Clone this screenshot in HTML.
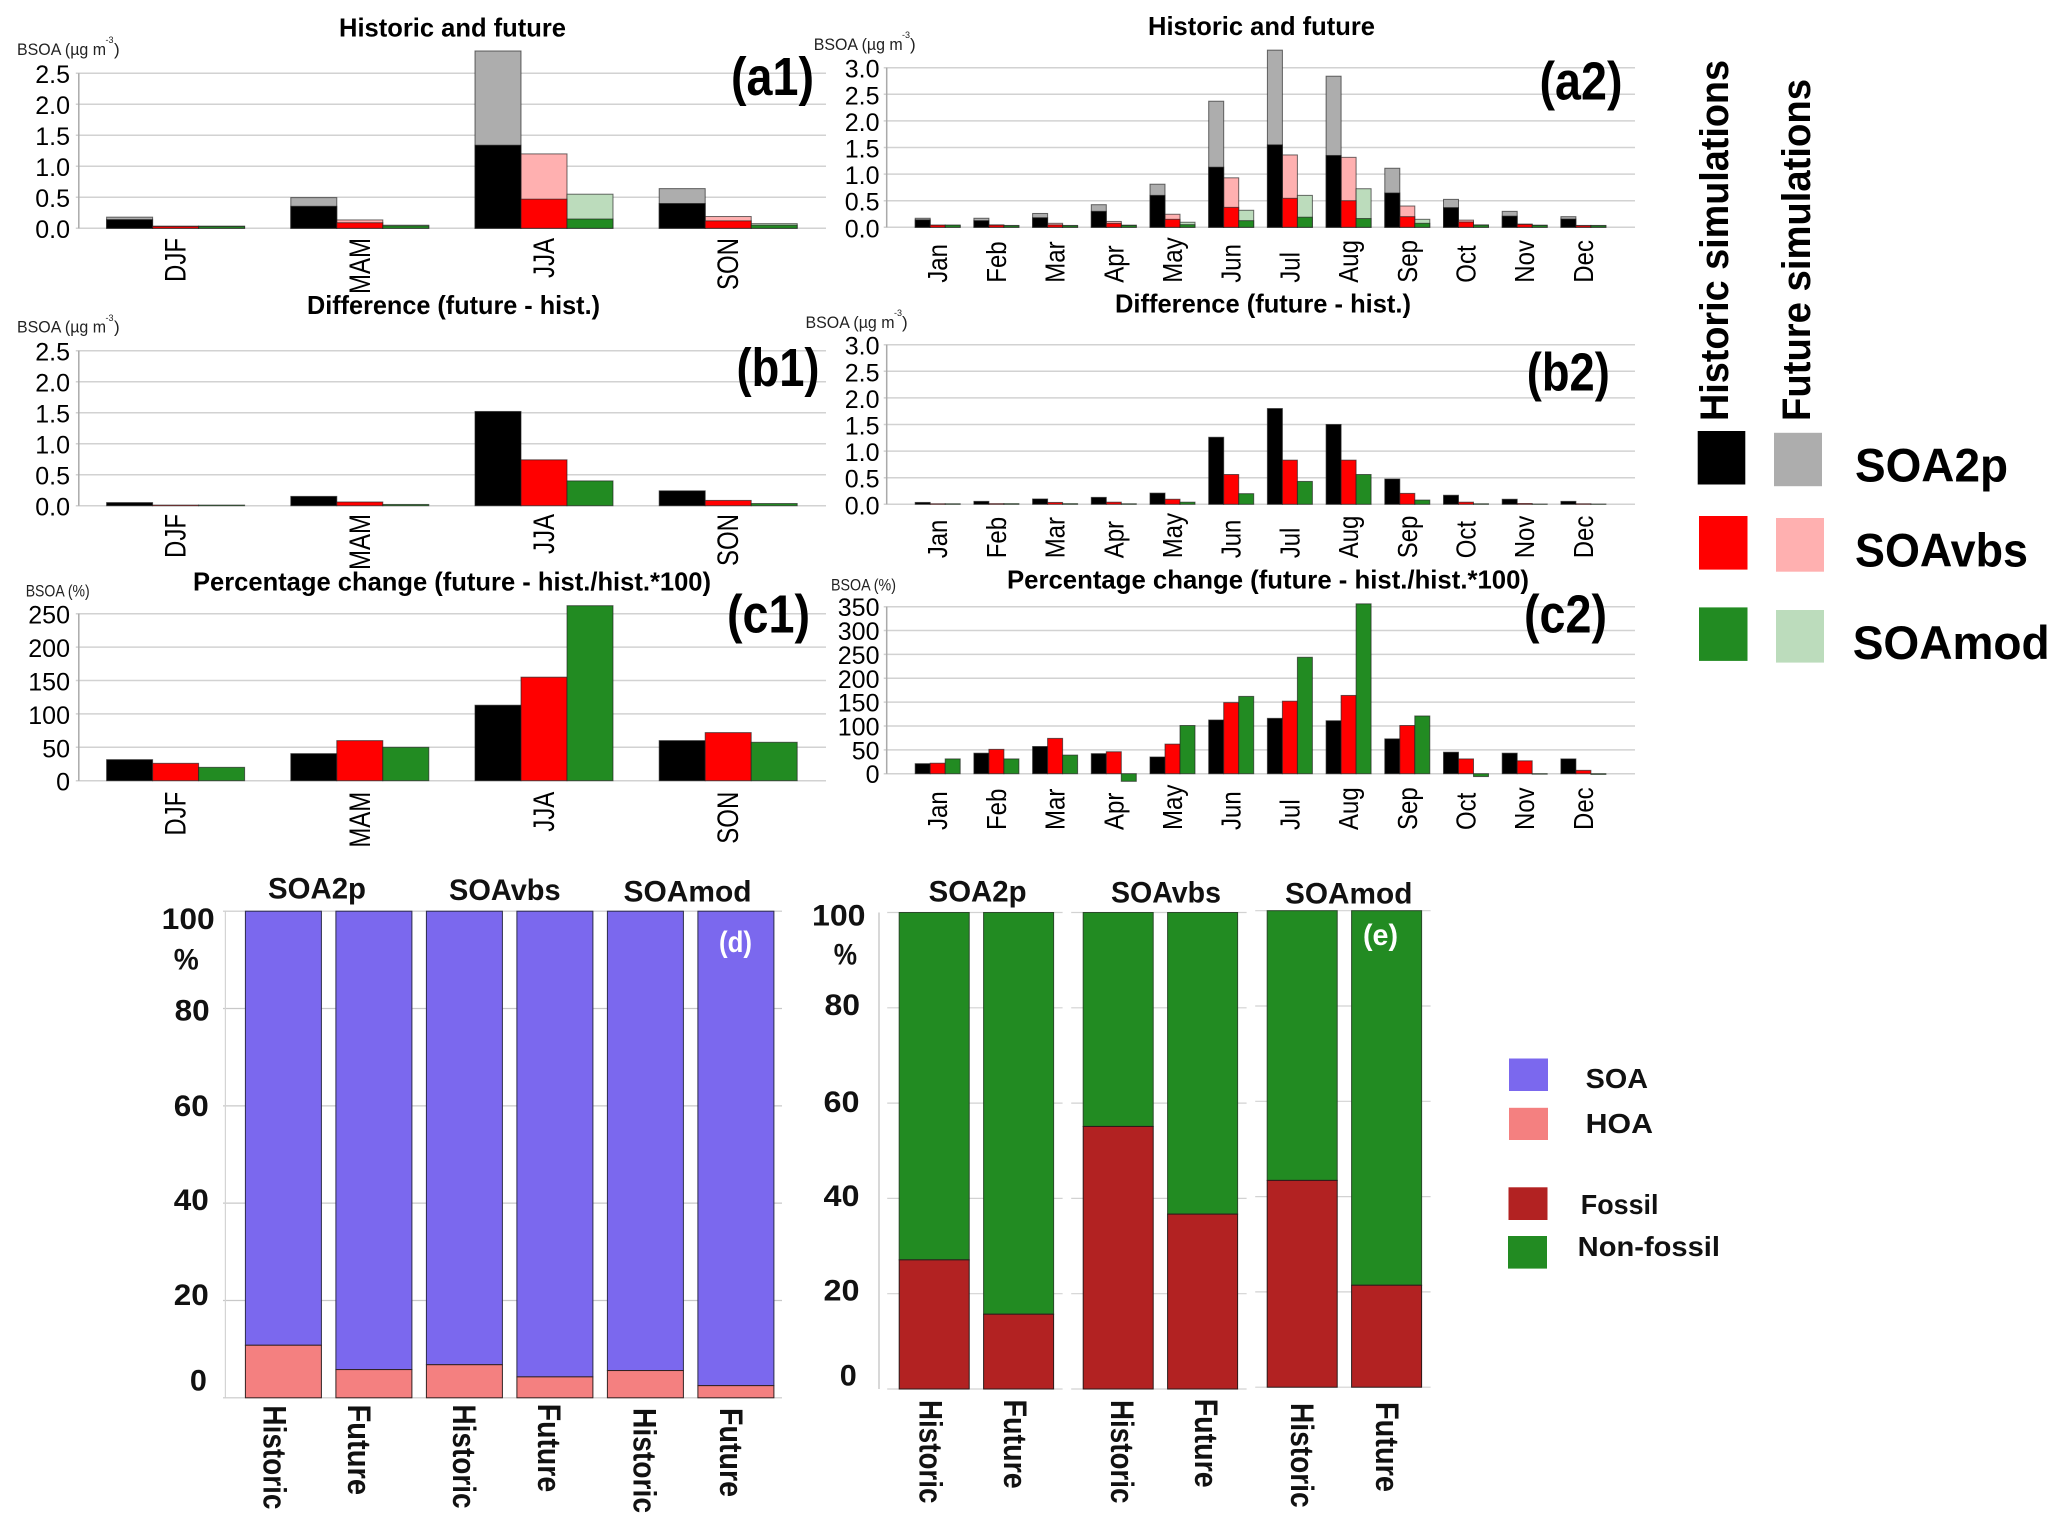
<!DOCTYPE html>
<html lang="en">
<head>
<meta charset="utf-8">
<title>BSOA historic and future simulations</title>
<style>
html,body{margin:0;padding:0;background:#fff;}
svg{display:block;}
text{font-family:"Liberation Sans",sans-serif;fill:#000;}
.t{font-size:26px;font-weight:bold;}
.u{font-size:17px;fill:#222;}
.s{font-size:9px;fill:#222;}
.p{font-size:54px;font-weight:bold;}
.h{font-size:30px;font-weight:bold;fill:#111;}
.k{font-size:30px;font-weight:bold;fill:#111;}
.b{font-size:32px;font-weight:bold;fill:#111;}
.l{font-size:47px;font-weight:bold;}
.v{font-size:40px;font-weight:bold;}
.e{font-size:28px;font-weight:bold;fill:#111;}
</style>
</head>
<body>
<svg id="figure" xmlns="http://www.w3.org/2000/svg" width="2067" height="1530" viewBox="0 0 2067 1530">
<rect width="2067" height="1530" fill="#fff"/>
<g id="charts"></g>

<text class="t" x="339" y="36.7" textLength="227" lengthAdjust="spacingAndGlyphs">Historic and future</text>
<text class="t" x="1148" y="35" textLength="227" lengthAdjust="spacingAndGlyphs">Historic and future</text>
<text class="t" x="307" y="314" textLength="293" lengthAdjust="spacingAndGlyphs">Difference (future - hist.)</text>
<text class="t" x="1115" y="312.7" textLength="296" lengthAdjust="spacingAndGlyphs">Difference (future - hist.)</text>
<text class="t" x="193" y="590.7" textLength="518" lengthAdjust="spacingAndGlyphs">Percentage change (future - hist./hist.*100)</text>
<text class="t" x="1007" y="588.3" textLength="522" lengthAdjust="spacingAndGlyphs">Percentage change (future - hist./hist.*100)</text>

<g><text class="u" x="17" y="55" textLength="89" lengthAdjust="spacingAndGlyphs">BSOA (µg m</text><text class="s" x="105.5" y="43">-3</text><text class="u" x="114" y="55">)</text></g>
<g><text class="u" x="813.7" y="50" textLength="89" lengthAdjust="spacingAndGlyphs">BSOA (µg m</text><text class="s" x="902" y="38">-3</text><text class="u" x="910" y="50">)</text></g>
<g><text class="u" x="17" y="332.7" textLength="89" lengthAdjust="spacingAndGlyphs">BSOA (µg m</text><text class="s" x="105.5" y="321">-3</text><text class="u" x="114" y="332.7">)</text></g>
<g><text class="u" x="805.5" y="328" textLength="89" lengthAdjust="spacingAndGlyphs">BSOA (µg m</text><text class="s" x="894" y="316">-3</text><text class="u" x="902" y="328">)</text></g>
<text class="u" x="25.7" y="596.7" textLength="64" lengthAdjust="spacingAndGlyphs">BSOA (%)</text>
<text class="u" x="831" y="590.7" textLength="65" lengthAdjust="spacingAndGlyphs">BSOA (%)</text>

<text class="p" x="731" y="95" textLength="83" lengthAdjust="spacingAndGlyphs">(a1)</text>
<text class="p" x="1539.5" y="99.3" textLength="83" lengthAdjust="spacingAndGlyphs">(a2)</text>
<text class="p" x="736.5" y="386" textLength="83" lengthAdjust="spacingAndGlyphs">(b1)</text>
<text class="p" x="1526.8" y="390.7" textLength="83" lengthAdjust="spacingAndGlyphs">(b2)</text>
<text class="p" x="727" y="632.7" textLength="83" lengthAdjust="spacingAndGlyphs">(c1)</text>
<text class="p" x="1524" y="632.7" textLength="83" lengthAdjust="spacingAndGlyphs">(c2)</text>

<g>
<text class="v" transform="translate(1728,421) rotate(-90)" textLength="361" lengthAdjust="spacingAndGlyphs">Historic simulations</text>
<text class="v" transform="translate(1810,421) rotate(-90)" textLength="342" lengthAdjust="spacingAndGlyphs">Future simulations</text>
<rect x="1697.7" y="431" width="47.6" height="53.5" fill="#000"/>
<rect x="1774" y="432.8" width="48" height="53.4" fill="#adadad"/>
<rect x="1699" y="516" width="48.5" height="53.6" fill="#ff0000"/>
<rect x="1776" y="518" width="48" height="53.7" fill="#ffb0b0"/>
<rect x="1699" y="607.4" width="48.5" height="53.5" fill="#228b22"/>
<rect x="1776" y="610" width="48" height="52.6" fill="#bcdcbc"/>
<text class="l" x="1855" y="481.6" textLength="153" lengthAdjust="spacingAndGlyphs">SOA2p</text>
<text class="l" x="1855" y="566.6" textLength="173" lengthAdjust="spacingAndGlyphs">SOAvbs</text>
<text class="l" x="1852.7" y="659" textLength="197" lengthAdjust="spacingAndGlyphs">SOAmod</text>
</g>

<g>
<text class="h" x="268" y="898.6" textLength="98" lengthAdjust="spacingAndGlyphs">SOA2p</text>
<text class="h" x="449" y="900" textLength="111.6" lengthAdjust="spacingAndGlyphs">SOAvbs</text>
<text class="h" x="623.5" y="901.6" textLength="128" lengthAdjust="spacingAndGlyphs">SOAmod</text>
<text class="k" x="161.7" y="929" textLength="53" lengthAdjust="spacingAndGlyphs">100</text>
<text class="k" x="173.8" y="969.7" textLength="25" lengthAdjust="spacingAndGlyphs">%</text>
<text class="k" x="174.7" y="1020.7" textLength="35" lengthAdjust="spacingAndGlyphs">80</text>
<text class="k" x="173.8" y="1116" textLength="35" lengthAdjust="spacingAndGlyphs">60</text>
<text class="k" x="173.8" y="1210" textLength="35" lengthAdjust="spacingAndGlyphs">40</text>
<text class="k" x="173.8" y="1304.8" textLength="35" lengthAdjust="spacingAndGlyphs">20</text>
<text class="k" x="189.9" y="1390.6" textLength="17" lengthAdjust="spacingAndGlyphs">0</text>
<text class="b" transform="translate(263.6,1405.4) rotate(90)" textLength="104" lengthAdjust="spacingAndGlyphs">Historic</text>
<text class="b" transform="translate(348,1404.5) rotate(90)" textLength="90.5" lengthAdjust="spacingAndGlyphs">Future</text>
<text class="b" transform="translate(453,1404.5) rotate(90)" textLength="104" lengthAdjust="spacingAndGlyphs">Historic</text>
<text class="b" transform="translate(538,1403.7) rotate(90)" textLength="88.5" lengthAdjust="spacingAndGlyphs">Future</text>
<text class="b" transform="translate(633.5,1408) rotate(90)" textLength="105" lengthAdjust="spacingAndGlyphs">Historic</text>
<text class="b" transform="translate(719.8,1408) rotate(90)" textLength="89" lengthAdjust="spacingAndGlyphs">Future</text>
</g>

<g>
<text class="h" x="928.6" y="901.6" textLength="98" lengthAdjust="spacingAndGlyphs">SOA2p</text>
<text class="h" x="1111" y="902.4" textLength="110" lengthAdjust="spacingAndGlyphs">SOAvbs</text>
<text class="h" x="1285" y="903.7" textLength="127.4" lengthAdjust="spacingAndGlyphs">SOAmod</text>
<text class="k" x="812" y="925.6" textLength="53.5" lengthAdjust="spacingAndGlyphs">100</text>
<text class="k" x="833.7" y="964.7" textLength="23.3" lengthAdjust="spacingAndGlyphs">%</text>
<text class="k" x="824.5" y="1015" textLength="35.5" lengthAdjust="spacingAndGlyphs">80</text>
<text class="k" x="823.5" y="1112" textLength="36" lengthAdjust="spacingAndGlyphs">60</text>
<text class="k" x="823.5" y="1205.9" textLength="36" lengthAdjust="spacingAndGlyphs">40</text>
<text class="k" x="823.5" y="1300.6" textLength="36" lengthAdjust="spacingAndGlyphs">20</text>
<text class="k" x="839.8" y="1385.6" textLength="17" lengthAdjust="spacingAndGlyphs">0</text>
<text class="b" transform="translate(919.4,1400) rotate(90)" textLength="103.4" lengthAdjust="spacingAndGlyphs">Historic</text>
<text class="b" transform="translate(1004,1399.5) rotate(90)" textLength="89.2" lengthAdjust="spacingAndGlyphs">Future</text>
<text class="b" transform="translate(1111,1400) rotate(90)" textLength="103.4" lengthAdjust="spacingAndGlyphs">Historic</text>
<text class="b" transform="translate(1195,1398.7) rotate(90)" textLength="89" lengthAdjust="spacingAndGlyphs">Future</text>
<text class="b" transform="translate(1291,1403) rotate(90)" textLength="104.6" lengthAdjust="spacingAndGlyphs">Historic</text>
<text class="b" transform="translate(1376,1402) rotate(90)" textLength="90" lengthAdjust="spacingAndGlyphs">Future</text>
</g>

<g>
<rect x="1509" y="1058.5" width="39" height="32.5" fill="#7b68ee"/>
<rect x="1509" y="1107.8" width="39" height="32.2" fill="#f48080"/>
<rect x="1508.5" y="1187.3" width="39" height="32.7" fill="#b22222"/>
<rect x="1508" y="1236" width="39" height="32.6" fill="#228b22"/>
<text class="e" x="1585.7" y="1088" textLength="62.3" lengthAdjust="spacingAndGlyphs">SOA</text>
<text class="e" x="1585.7" y="1133" textLength="67.3" lengthAdjust="spacingAndGlyphs">HOA</text>
<text class="e" x="1580.8" y="1214" textLength="77.7" lengthAdjust="spacingAndGlyphs">Fossil</text>
<text class="e" x="1577.7" y="1256" textLength="142.3" lengthAdjust="spacingAndGlyphs">Non-fossil</text>
</g>

<g id="overlay"></g>

<script>
const seasons = ['DJF', 'MAM', 'JJA', 'SON'];
const months = ['Jan', 'Feb', 'Mar', 'Apr', 'May', 'Jun', 'Jul', 'Aug', 'Sep', 'Oct', 'Nov', 'Dec'];
const massTicksA = ['0.0', '0.5', '1.0', '1.5', '2.0', '2.5'];
const massTicksB = ['0.0', '0.5', '1.0', '1.5', '2.0', '2.5', '3.0'];
const pctTicksC1 = ['0', '50', '100', '150', '200', '250'];
const pctTicksC2 = ['0', '50', '100', '150', '200', '250', '300', '350'];
const shareTicks = [0, 20, 40, 60, 80, 100];

const a1Hist2p = [0.14, 0.355, 1.34, 0.40];
const a1HistVbs = [0.03, 0.09, 0.47, 0.12];
const a1HistMod = [0.03, 0.04, 0.15, 0.05];
const a1Fut2p = [0.18, 0.495, 2.86, 0.64];
const a1FutVbs = [0.035, 0.135, 1.20, 0.19];
const a1FutMod = [0.035, 0.05, 0.55, 0.075];

const a2Hist2p = [0.14, 0.125, 0.18, 0.30, 0.60, 1.13, 1.55, 1.35, 0.645, 0.37, 0.21, 0.155];
const a2HistVbs = [0.04, 0.04, 0.045, 0.075, 0.15, 0.375, 0.545, 0.50, 0.20, 0.10, 0.055, 0.03];
const a2HistMod = [0.04, 0.03, 0.03, 0.035, 0.05, 0.125, 0.19, 0.165, 0.075, 0.04, 0.035, 0.03];
const a2Fut2p = [0.17, 0.17, 0.26, 0.425, 0.81, 2.37, 3.33, 2.84, 1.11, 0.525, 0.30, 0.20];
const a2FutVbs = [0.04, 0.045, 0.075, 0.11, 0.245, 0.93, 1.36, 1.315, 0.40, 0.135, 0.06, 0.035];
const a2FutMod = [0.04, 0.035, 0.035, 0.04, 0.095, 0.32, 0.60, 0.725, 0.15, 0.045, 0.04, 0.035];

const b1Diff2p = [0.05, 0.15, 1.52, 0.24];
const b1DiffVbs = [0.01, 0.06, 0.74, 0.085];
const b1DiffMod = [0.01, 0.02, 0.40, 0.035];

const b2Diff2p = [0.035, 0.055, 0.10, 0.13, 0.21, 1.26, 1.80, 1.50, 0.475, 0.17, 0.095, 0.055];
const b2DiffVbs = [0.01, 0.012, 0.035, 0.04, 0.095, 0.56, 0.83, 0.83, 0.205, 0.04, 0.015, 0.01];
const b2DiffMod = [0.01, 0.012, 0.012, 0.01, 0.04, 0.20, 0.43, 0.56, 0.08, 0.01, 0.005, 0.005];

const c1Pct2p = [31.5, 40.5, 113, 60];
const c1PctVbs = [26, 60, 155, 72];
const c1PctMod = [20, 50, 262, 57.5];

const c2Pct2p = [21, 43, 57, 42, 35, 112.5, 116, 111, 73, 45, 43, 31];
const c2PctVbs = [22, 51, 74, 46, 62, 149, 152, 164, 101, 31, 27, 7];
const c2PctMod = [31, 31, 39, -16, 101, 162, 244, 356, 121, -6, -1, -1.5];

const dHoa = [10.8, 5.8, 6.8, 4.3, 5.6, 2.5];
const eFossil = [27.1, 15.7, 55.1, 36.7, 43.4, 21.4];

const NS = 'http://www.w3.org/2000/svg';
const layer = document.getElementById('charts');
const overlay = document.getElementById('overlay');
const BLACK = '#000000';
const RED = '#ff0000';
const GREEN = '#228b22';
const GREY = '#adadad';
const PINK = '#ffb0b0';
const LIGHT = '#bcdcbc';
const EDGE = 'rgba(30,30,30,0.65)';

function node(tag, attrs, parent) {
  const el = document.createElementNS(NS, tag);
  for (const key in attrs) el.setAttribute(key, attrs[key]);
  parent.appendChild(el);
  return el;
}

function yOf(p, value) {
  return p.zero - value * (p.zero - p.top) / p.max;
}

function xOf(p, category, series) {
  return p.x0 + category * p.step + series * p.w;
}

function drawFrame(p, ticks, tickValue) {
  const g = node('g', {}, layer);
  
  
  ticks.forEach(function (label) {
    const y = yOf(p, tickValue(label));
    const line = node('line', {x1: p.left - 3, x2: p.right, y1: y, y2: y, stroke: '#d2d2d2', 'stroke-width': 1.5}, g);
    
    
    const t = node('text', {x: p.labelRight, y: y + p.tickOffset, 'text-anchor': 'end', 'font-size': 25, fill: '#111'}, g);
    t.textContent = label;
    
    
  });
  const axis = node('line', {x1: p.left, x2: p.left, y1: p.top, y2: p.zero, stroke: '#aaaaaa', 'stroke-width': 1.5}, g);
  
  
}

function drawCategoryLabels(p, names) {
  const g = node('g', {}, layer);
  
  
  names.forEach(function (name, i) {
    const centre = xOf(p, i, 1.5);
    const t = node('text', {
      transform: 'translate(' + (centre + p.catShift) + ',' + p.catY + ') rotate(-90) scale(' + p.catScale + ',1)',
      'text-anchor': p.catAnchor,
      'font-size': p.catSize,
      fill: '#111'
    }, g);
    t.textContent = name;
    
    
  });
}

function bar(p, category, series, value, fill, parent) {
  const a = yOf(p, 0);
  const b = yOf(p, value);
  return node('rect', {
    x: xOf(p, category, series),
    y: Math.min(a, b),
    width: p.w,
    height: Math.abs(a - b),
    fill: fill,
    stroke: EDGE,
    'stroke-width': 1
  }, parent);
}

function drawStacked(p, futures, historics) {
  const g = node('g', {}, layer);
  
  
  [GREY, PINK, LIGHT].forEach(function (fill, s) {
    futures[s].forEach(function (v, i) {
      const r = bar(p, i, s, v, fill, g);
      
      
    });
  });
  [BLACK, RED, GREEN].forEach(function (fill, s) {
    historics[s].forEach(function (v, i) {
      const r = bar(p, i, s, v, fill, g);
      
      
    });
  });
}

function drawGrouped(p, seriesList) {
  const g = node('g', {}, layer);
  
  
  [BLACK, RED, GREEN].forEach(function (fill, s) {
    seriesList[s].forEach(function (v, i) {
      const r = bar(p, i, s, v, fill, g);
      
      
    });
  });
}

const seasonal = {left: 78.8, right: 826, x0: 106.6, step: 184.2, w: 46, labelRight: 70, catShift: 10, catScale: 0.8, catSize: 30, catAnchor: 'end'};
const monthly = {left: 886.7, right: 1635, x0: 915.2, step: 58.7, w: 15, labelRight: 879.5, catShift: 9.5, catScale: 0.857, catSize: 28, catAnchor: 'start'};

const panelA1 = Object.assign({}, seasonal, {top: 73.3, zero: 228.3, max: 2.5, tickOffset: 9.7, catY: 238});
const panelB1 = Object.assign({}, seasonal, {top: 350.7, zero: 505.7, max: 2.5, tickOffset: 9.7, catY: 514});
const panelC1 = Object.assign({}, seasonal, {top: 613.7, zero: 780.7, max: 250, tickOffset: 10, catY: 791.7});
const panelA2 = Object.assign({}, monthly, {top: 67.7, zero: 227.3, max: 3, tickOffset: 10, catY: 282.7});
const panelB2 = Object.assign({}, monthly, {top: 344.7, zero: 504.3, max: 3, tickOffset: 10, catY: 558.3});
const panelC2 = Object.assign({}, monthly, {top: 606.7, zero: 773.7, max: 350, tickOffset: 9.5, catY: 830});

drawFrame(panelA1, massTicksA, Number);
drawStacked(panelA1, [a1Fut2p, a1FutVbs, a1FutMod], [a1Hist2p, a1HistVbs, a1HistMod]);
drawCategoryLabels(panelA1, seasons);

drawFrame(panelA2, massTicksB, Number);
drawStacked(panelA2, [a2Fut2p, a2FutVbs, a2FutMod], [a2Hist2p, a2HistVbs, a2HistMod]);
drawCategoryLabels(panelA2, months);

drawFrame(panelB1, massTicksA, Number);
drawGrouped(panelB1, [b1Diff2p, b1DiffVbs, b1DiffMod]);
drawCategoryLabels(panelB1, seasons);

drawFrame(panelB2, massTicksB, Number);
drawGrouped(panelB2, [b2Diff2p, b2DiffVbs, b2DiffMod]);
drawCategoryLabels(panelB2, months);

drawFrame(panelC1, pctTicksC1, Number);
drawGrouped(panelC1, [c1Pct2p, c1PctVbs, c1PctMod]);
drawCategoryLabels(panelC1, seasons);

drawFrame(panelC2, pctTicksC2, Number);
drawGrouped(panelC2, [c2Pct2p, c2PctVbs, c2PctMod]);
drawCategoryLabels(panelC2, months);

/* Panel d: SOA / HOA shares */
const dTop = 911.2;
const dZero = 1397.8;
const yD = function (v) { return dZero - v * (dZero - dTop) / 100; };
const xD = function (i) { return 245.4 + i * 90.5; };
const dWidth = 76;

const dGrid = node('g', {}, layer);


shareTicks.forEach(function (v) {
  const line = node('line', {x1: 223, x2: 782, y1: yD(v), y2: yD(v), stroke: '#c8c8c8', 'stroke-width': 1.2}, dGrid);
  
  
});
const dAxis = node('line', {x1: 225.4, x2: 225.4, y1: dTop, y2: dZero, stroke: '#d4d4d4', 'stroke-width': 1.2}, dGrid);



dHoa.forEach(function (hoa, i) {
  const soa = node('rect', {x: xD(i), y: yD(100), width: dWidth, height: yD(hoa) - yD(100), fill: '#7b68ee', stroke: '#2c2c4a', 'stroke-width': 1}, layer);
  
  
  const part = node('rect', {x: xD(i), y: yD(hoa), width: dWidth, height: yD(0) - yD(hoa), fill: '#f48080', stroke: '#332222', 'stroke-width': 1}, layer);
  
  
});

/* Panel e: fossil / non-fossil shares */
const eTop = 912.5;
const eZero = 1389;
const eGroupLift = function (i) { return i >= 4 ? 1.8 : 0; };
const yE = function (v, i) { return eZero - eGroupLift(i) - v * (eZero - eTop) / 100; };
const xE = function (i) { return 899.2 + Math.floor(i / 2) * 184 + (i % 2) * 84.4; };
const eWidth = 70;

const eGrid = node('g', {}, layer);


[0, 2, 4].forEach(function (i) {
  shareTicks.forEach(function (v) {
    const line = node('line', {x1: xE(i) - 12, x2: xE(i + 1) + eWidth + 9, y1: yE(v, i), y2: yE(v, i), stroke: '#d2d2d2', 'stroke-width': 1.2}, eGrid);
    
    
  });
});
const eAxis = node('line', {x1: 879, x2: 879, y1: eTop, y2: eZero, stroke: '#bdbdbd', 'stroke-width': 1.2}, eGrid);



eFossil.forEach(function (fossil, i) {
  const nonFossil = node('rect', {x: xE(i), y: yE(100, i), width: eWidth, height: yE(fossil, i) - yE(100, i), fill: '#228b22', stroke: '#2a4a2a', 'stroke-width': 1}, layer);
  
  
  const part = node('rect', {x: xE(i), y: yE(fossil, i), width: eWidth, height: yE(0, i) - yE(fossil, i), fill: '#b22222', stroke: '#2a1a1a', 'stroke-width': 1}, layer);
  
  
});

const labelD = node('text', {x: 719, y: 952, 'font-size': 30, 'font-weight': 'bold', textLength: 33, lengthAdjust: 'spacingAndGlyphs'}, overlay);
labelD.textContent = '(d)';
labelD.style.fill = '#ffffff';



const labelE = node('text', {x: 1363, y: 945, 'font-size': 30, 'font-weight': 'bold', textLength: 35, lengthAdjust: 'spacingAndGlyphs'}, overlay);
labelE.textContent = '(e)';
labelE.style.fill = '#ffffff';


</script>
</svg>
</body>
</html>
